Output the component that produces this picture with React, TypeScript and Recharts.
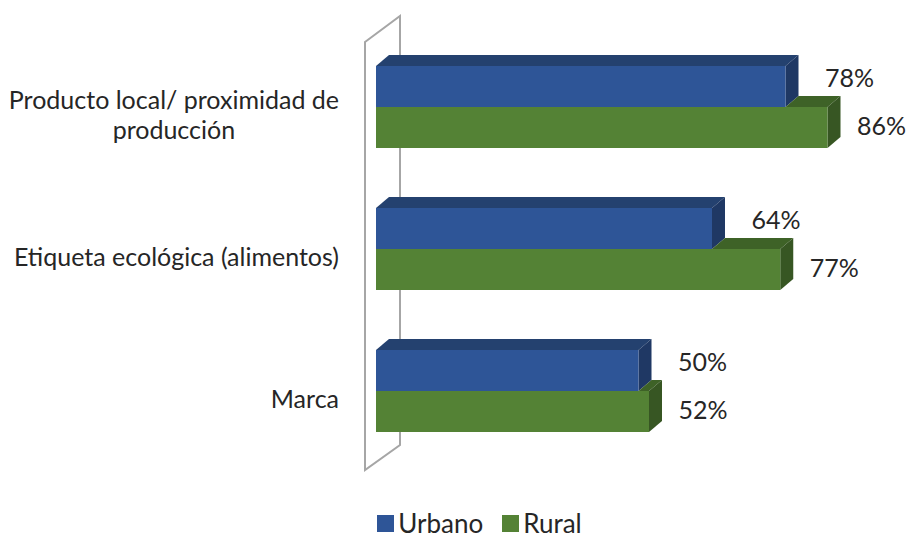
import { BarChart, Bar, XAxis, YAxis, LabelList, Legend, ReferenceArea } from "recharts"

const categories = ["Producto local/ proximidad de producción", "Etiqueta ecológica (alimentos)", "Marca"]
const urbano = [78, 64, 50]
const rural = [86, 77, 52]
const seriesOrder = ["Urbano", "Rural"]

const data = categories.map((name, i) => ({ name, urbano: urbano[i], rural: rural[i] }))

const FONT = "Lato, 'Open Sans', sans-serif"
const FONT_SIZE = 25
const TEXT = "#262626"
const DX = 13
const DY = 11

const BLUE = { front: "#2E5597", top: "#24416F", side: "#1F3864" }
const GREEN = { front: "#548235", top: "#3E6227", side: "#375623" }

const ctx = document.createElement("canvas").getContext("2d")
const measure = (s: string) => {
    if (!ctx) return s.length * FONT_SIZE * 0.5
    ctx.font = `${FONT_SIZE}px ${FONT}`
    return ctx.measureText(s).width
}

const wrap = (s: string, max: number) => {
    const words = s.split(" ")
    const lines: string[] = []
    let cur = ""
    words.forEach(w => {
        const t = cur ? cur + " " + w : w
        if (cur && measure(t) > max) {
            lines.push(cur)
            cur = w
        } else cur = t
    })
    if (cur) lines.push(cur)
    return lines
}

const CategoryTick = (props: any) => {
    const { x, y, payload } = props
    const lines = wrap(payload.value, 345)
    const lh = 30
    const startY = y + 7 - ((lines.length - 1) * lh) / 2
    if (lines.length === 1) {
        return (
            <text x={x} y={startY} textAnchor="end" dominantBaseline="central" fontFamily={FONT} fontSize={FONT_SIZE} fill={TEXT}>
                {lines[0]}
            </text>
        )
    }
    const w = Math.max(...lines.map(measure))
    return (
        <text x={x - w / 2} y={startY} textAnchor="middle" dominantBaseline="central" fontFamily={FONT} fontSize={FONT_SIZE} fill={TEXT}>
            {lines.map((l, i) => (
                <tspan key={i} x={x - w / 2} y={startY + i * lh}>{l}</tspan>
            ))}
        </text>
    )
}

// front face + top + right side, like excel's 3d bars
const UrbanoShape = (props: any) => {
    const { x, y, width, height } = props
    const r = x + width
    return (
        <g>
            <polygon points={`${x},${y} ${x + DX},${y - DY} ${r + DX},${y - DY} ${r},${y}`} fill={BLUE.top} />
            <polygon points={`${r},${y} ${r + DX},${y - DY} ${r + DX},${y + height - DY} ${r},${y + height}`} fill={BLUE.side} />
            <rect x={x} y={y} width={width} height={height} fill={BLUE.front} />
        </g>
    )
}

const RuralShape = (props: any) => {
    const { x, y, width, height, payload } = props
    const r = x + width
    // top face only shows past the end of the urbano bar
    const blueEnd = x + (payload.urbano * width) / payload.rural
    return (
        <g>
            {blueEnd < r && (
                <polygon points={`${blueEnd},${y} ${blueEnd + DX},${y - DY} ${r + DX},${y - DY} ${r},${y}`} fill={GREEN.top} />
            )}
            <polygon points={`${r},${y} ${r + DX},${y - DY} ${r + DX},${y + height - DY} ${r},${y + height}`} fill={GREEN.side} />
            <rect x={x} y={y} width={width} height={height} fill={GREEN.front} />
        </g>
    )
}

const Wall = (props: any) => {
    const { x, y, height } = props
    const fx = x - 11
    const bx = x + 24
    const p = `${fx},${y + 6} ${bx},${y - 20} ${bx},${y + height - 17} ${fx},${y + height + 8}`
    return <polygon points={p} fill="none" stroke="#A6A6A6" strokeWidth={2} />
}

const valueLabel = (dx: number, dy: number) => (props: any) => {
    const { x, y, width, height, value } = props
    return (
        <text x={x + width + dx} y={y + height / 2 + dy} textAnchor="middle" dominantBaseline="central" fontFamily={FONT} fontSize={FONT_SIZE} fill={TEXT}>
            {value}%
        </text>
    )
}

const LegendContent = (props: any) => {
    const items = [...(props.payload || [])].sort((a: any, b: any) => seriesOrder.indexOf(a.value) - seriesOrder.indexOf(b.value))
    return (
        <div style={{ display: "flex", justifyContent: "center", gap: 19, paddingLeft: 52, fontFamily: FONT, fontSize: 26, lineHeight: "26px", color: TEXT }}>
            {items.map((p: any) => (
                <div key={p.value} style={{ display: "flex", alignItems: "center", gap: 4 }}>
                    <span style={{ width: 17, height: 17, background: p.color, display: "inline-block" }} />
                    <span>{p.value}</span>
                </div>
            ))}
        </div>
    )
}

const App = () => {
    return (
        <div style={{ position: "absolute", left: 0, top: 0, background: "#fff" }}>
            <BarChart
                width={907}
                height={539}
                data={data}
                layout="vertical"
                margin={{ top: 36, right: 6, left: 10, bottom: 77 }}
                barSize={41}
                barGap={0}
            >
                <XAxis type="number" domain={[0, 100]} hide />
                <YAxis type="category" dataKey="name" width={366} axisLine={false} tickLine={false} tickSize={0} tickMargin={37} tick={<CategoryTick />} />
                <ReferenceArea x1={0} x2={1} ifOverflow="visible" shape={<Wall />} />
                <Bar dataKey="urbano" name="Urbano" fill={BLUE.front} shape={<UrbanoShape />} isAnimationActive={false}>
                    <LabelList dataKey="urbano" content={valueLabel(64, -10)} />
                </Bar>
                <Bar dataKey="rural" name="Rural" fill={GREEN.front} shape={<RuralShape />} isAnimationActive={false}>
                    <LabelList dataKey="rural" content={valueLabel(54, -3)} />
                </Bar>
                <Legend verticalAlign="middle" content={<LegendContent />} wrapperStyle={{ top: 510, left: 0, width: 907, height: 26 }} />
            </BarChart>
        </div>
    )
}

export default App
